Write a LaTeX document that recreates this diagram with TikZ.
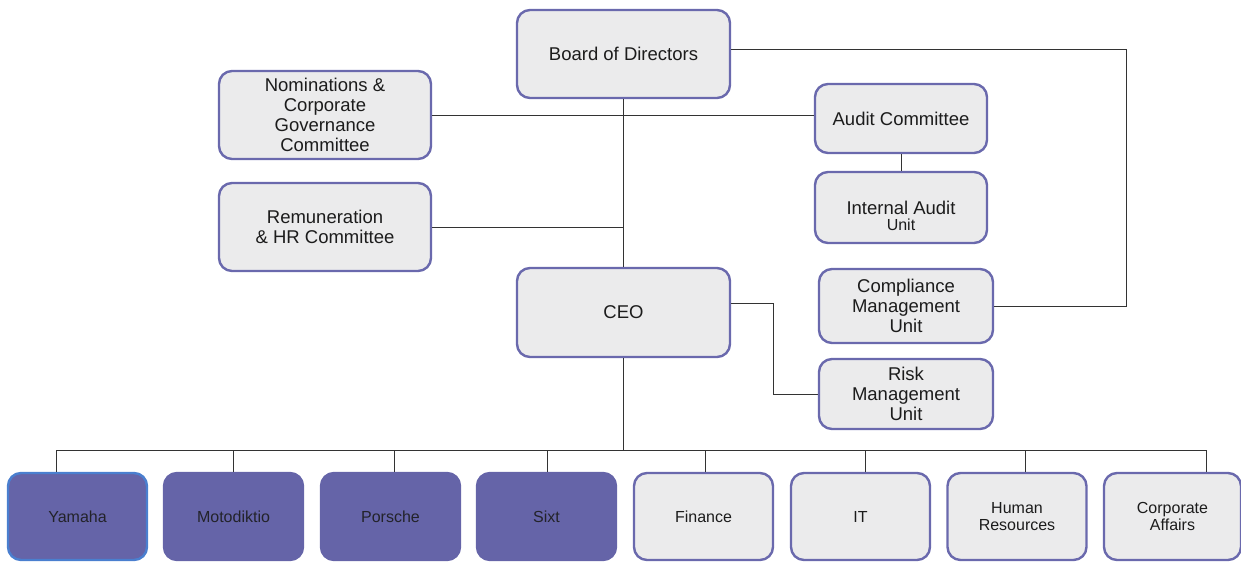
\documentclass[tikz,border=0pt]{standalone}
\usepackage{fontspec}
\setmainfont{Liberation Sans}
\definecolor{boxfill}{HTML}{EBEBEC}
\definecolor{boxline}{HTML}{6A69AD}
\definecolor{unitfill}{HTML}{6564A8}
\definecolor{yamline}{HTML}{4A7FCF}
\definecolor{wire}{HTML}{333333}
\definecolor{ink}{HTML}{1C1C1C}
\begin{document}
\begin{tikzpicture}[x=1pt,y=-1pt,
  box/.style={draw=boxline, fill=boxfill, line width=2.4pt, rounded corners=13pt,
    align=center, inner sep=0pt, text=ink, font=\fontsize{18.5}{20}\selectfont},
  unit/.style={box, minimum width=139pt, minimum height=87pt,
    font=\fontsize{16}{17}\selectfont},
  company/.style={unit, fill=unitfill, draw=unitfill, text=ink!90!unitfill},
  wireline/.style={draw=wire, line width=1pt}]
\useasboundingbox (0,0) rectangle (1241,562);

% governance boxes
\node[box, minimum width=213pt, minimum height=88pt] (board) at (623.5,54) {Board of Directors};
\node[box, minimum width=212pt, minimum height=88pt] (nom) at (325,115)
  {Nominations \&\\Corporate\\Governance\\Committee};
\node[box, minimum width=212pt, minimum height=88pt] (rem) at (325,227)
  {Remuneration\\\& HR Committee};
\node[box, minimum width=172pt, minimum height=69pt] (audit) at (901,118.5) {Audit Committee};
\node[box, minimum width=172pt, minimum height=71pt] (iau) at (901,207.5) {};
\node[align=center, text=ink, inner sep=0pt] (iautext) at (901,216)
  {\fontsize{18.5}{19}\selectfont Internal Audit\\[4pt]\fontsize{16}{16}\selectfont Unit};
\node[box, minimum width=174pt, minimum height=74pt] (comp) at (906,306)
  {Compliance\\Management\\Unit};
\node[box, minimum width=174pt, minimum height=70pt] (risk) at (906,394)
  {Risk\\Management\\Unit};
\node[box, minimum width=213pt, minimum height=89pt] (ceo) at (623.5,312.5) {CEO};

% operating units
\node[company, draw=yamline] (yamaha) at (77.5,516.5) {Yamaha};
\node[company] (moto) at (233.5,516.5) {Motodiktio};
\node[company] (porsche) at (390.5,516.5) {Porsche};
\node[company] (sixt) at (546.5,516.5) {Sixt};
\node[unit] (fin) at (703.5,516.5) {Finance};
\node[unit] (it) at (860.5,516.5) {IT};
\node[unit] (hr) at (1017,516.5) {Human\\Resources};
\node[unit, minimum width=137pt] (corp) at (1172.5,516.5) {Corporate\\Affairs};

% junction points
\coordinate (bj) at (1126,49);
\coordinate (rj) at (773,303);
\coordinate (d1) at (56,450);
\coordinate (d2) at (233,450);
\coordinate (d3) at (394,450);
\coordinate (d4) at (547,450);
\coordinate (d5) at (705,450);
\coordinate (d6) at (865,450);
\coordinate (d7) at (1025,450);
\coordinate (d8) at (1206,450);

% connectors
\draw[wireline] (board.south) -- (ceo.north);
\draw[wireline] (nom.east) -- (nom.east -| audit.west);
\draw[wireline] (rem.east) -- (rem.east -| board.south);
\draw[wireline] (audit.south) -- (iau.north);
\draw[wireline] (board.east |- bj) -- (bj) |- (comp.east);
\draw[wireline] (ceo.east |- rj) -- (rj) |- (risk.west);
\draw[wireline] (ceo.south) -- (ceo.south |- d1);
\draw[wireline] (d1) -- (d8);
\draw[wireline] (d1) -- (d1 |- yamaha.north);
\draw[wireline] (d2) -- (d2 |- moto.north);
\draw[wireline] (d3) -- (d3 |- porsche.north);
\draw[wireline] (d4) -- (d4 |- sixt.north);
\draw[wireline] (d5) -- (d5 |- fin.north);
\draw[wireline] (d6) -- (d6 |- it.north);
\draw[wireline] (d7) -- (d7 |- hr.north);
\draw[wireline] (d8) -- (d8 |- corp.north);
\end{tikzpicture}
\end{document}
